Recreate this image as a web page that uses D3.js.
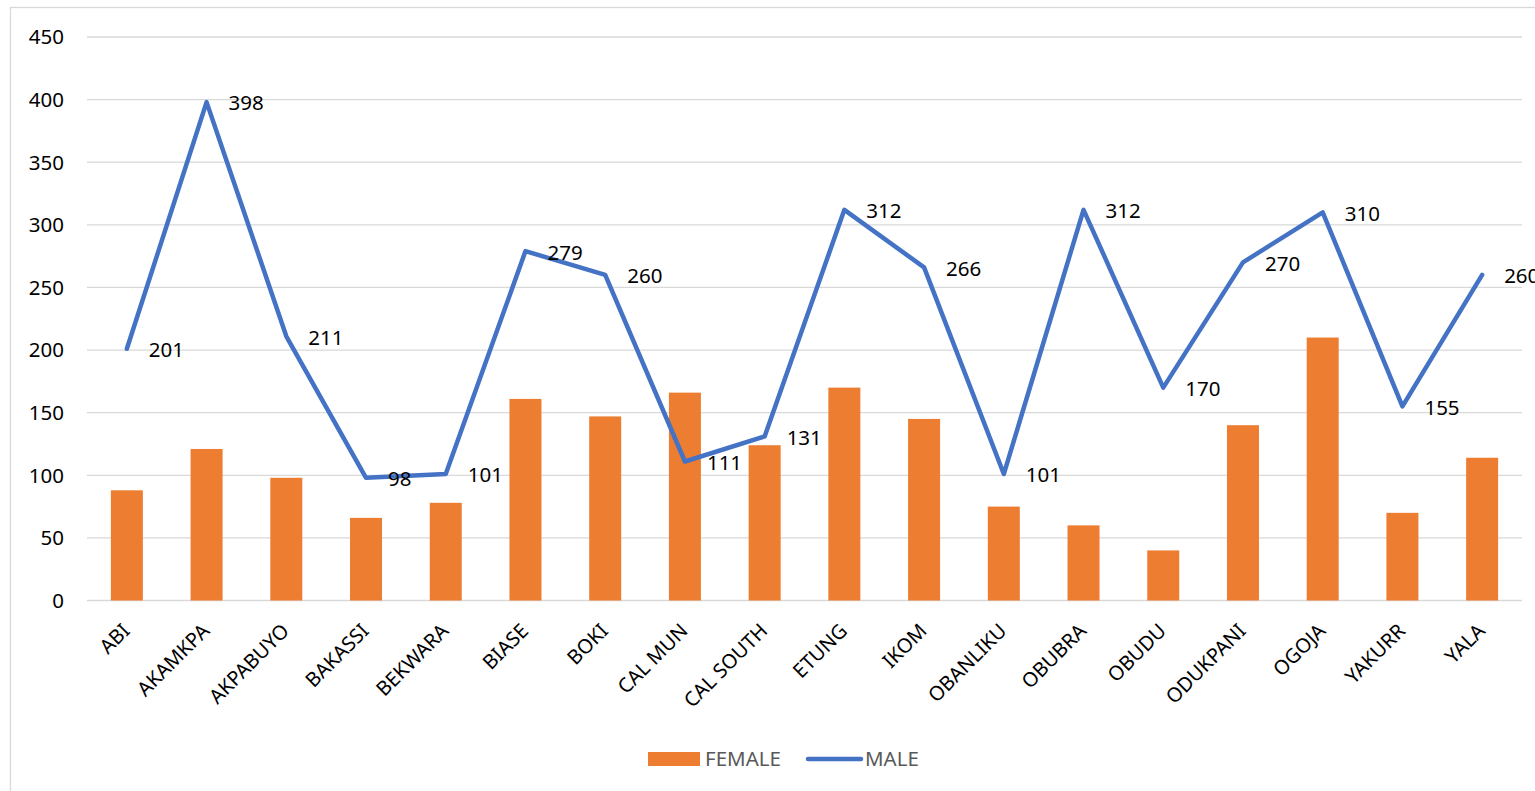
<!DOCTYPE html>
<html>
<head>
<meta charset="utf-8">
<script src="https://cdn.jsdelivr.net/npm/d3@7"></script>
<style>
body{margin:0;background:#fff;}
svg text{font-family:"Noto Sans",sans-serif;}
</style>
</head>
<body>
<div id="chart"></div>
<script>
// datos del grafico
var categories = ['ABI','AKAMKPA','AKPABUYO','BAKASSI','BEKWARA','BIASE','BOKI','CAL MUN','CAL SOUTH','ETUNG','IKOM','OBANLIKU','OBUBRA','OBUDU','ODUKPANI','OGOJA','YAKURR','YALA'];
var female = [88,121,98,66,78,161,147,166,124,170,145,75,60,40,140,210,70,114];
var male = [201,398,211,98,101,279,260,111,131,312,266,101,312,170,270,310,155,260];
var yTicks = [0,50,100,150,200,250,300,350,400,450];

var W=1535, H=791;
var plotLeft=87, plotRight=1522, plotTop=37, plotBottom=600.5;

var svg=d3.select('#chart').append('svg').attr('width',W).attr('height',H);

// borde del area
svg.append('rect').attr('x',10.5).attr('y',7.5).attr('width',W+20).attr('height',H+20)
    .attr('fill','none').attr('stroke','#d9d9d9').attr('stroke-width',1.3);

var xc=d3.scaleBand().domain(categories).range([plotLeft,plotRight]);
var y=d3.scaleLinear().domain([0,450]).range([plotBottom,plotTop]);
function cx(d){ return xc(d)+xc.bandwidth()/2; }

// grid
svg.append('g').selectAll('line').data(yTicks).enter().append('line')
    .attr('x1',plotLeft).attr('x2',plotRight)
    .attr('y1',d=>y(d)).attr('y2',d=>y(d))
    .attr('stroke','#d9d9d9').attr('stroke-width',1.3);

svg.append('g').selectAll('text').data(yTicks).enter().append('text')
    .attr('x',64).attr('y',d=>y(d)).attr('dy','0.36em')
    .attr('text-anchor','end').attr('font-size','20.5px').attr('fill','#000')
    .text(d=>d);

// barras
svg.append('g').selectAll('rect').data(female).enter().append('rect')
    .attr('x',(d,i)=>cx(categories[i])-16)
    .attr('width',32)
    .attr('y',d=>y(d)).attr('height',d=>y(0)-y(d))
    .attr('fill','#ed7d31');

// linea
var line=d3.line().x((d,i)=>cx(categories[i])).y(d=>y(d));
svg.append('path').datum(male).attr('d',line)
    .attr('fill','none').attr('stroke','#4472c4').attr('stroke-width',4.5)
    .attr('stroke-linejoin','round').attr('stroke-linecap','round');

svg.append('g').selectAll('text').data(male).enter().append('text')
    .attr('x',(d,i)=>cx(categories[i])+22)
    .attr('y',d=>y(d)+1).attr('dy','0.36em')
    .attr('font-size','20.5px').attr('fill','#000')
    .text(d=>d);

// etiquetas categorias
svg.append('g').selectAll('text').data(categories).enter().append('text')
    .attr('transform',d=>'translate('+(cx(d)-1)+',627) rotate(-45)')
    .attr('text-anchor','end').attr('dy','0.36em')
    .attr('font-size','20px').attr('fill','#000')
    .text(d=>d);

// leyenda
var lg=svg.append('g');
lg.append('rect').attr('x',648).attr('y',752).attr('width',52).attr('height',14).attr('fill','#ed7d31');
lg.append('text').attr('x',705).attr('y',759).attr('dy','0.36em').attr('font-size','20.5px').attr('fill','#595959').text('FEMALE');
lg.append('line').attr('x1',808).attr('x2',861).attr('y1',759).attr('y2',759)
    .attr('stroke','#4472c4').attr('stroke-width',4.5).attr('stroke-linecap','round');
lg.append('text').attr('x',865).attr('y',759).attr('dy','0.36em').attr('font-size','20.5px').attr('fill','#595959').text('MALE');
</script>
</body>
</html>
